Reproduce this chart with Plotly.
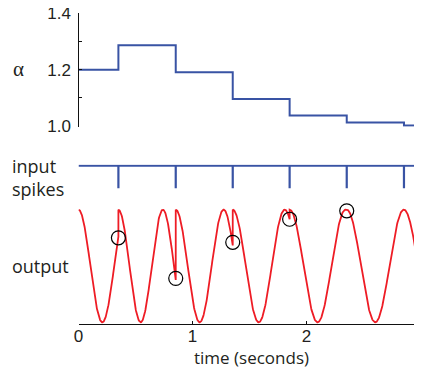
import numpy as np
import plotly.graph_objects as go

# ---- data ----
spike_times = [0.35, 0.853, 1.353, 1.852, 2.353, 2.855]
alpha_times = [0.0, 0.35, 0.853, 1.353, 1.852, 2.353, 2.855, 3.0]
alpha_values = [1.2, 1.287, 1.191, 1.096, 1.037, 1.012, 1.002, 1.002]
reset_times = [0.0, 0.35, 0.853, 1.353, 1.852, 2.353, 2.855]
periods = [0.418, 0.39, 0.42, 0.456, 0.49, 0.5, 0.5]
circle_times = [0.35, 0.853, 1.353, 1.852, 2.353]
circle_values = [0.75, 0.39, 0.71, 0.915, 0.99]
x_ticks = [0, 1, 2, 3]
alpha_ticks = [1.0, 1.1, 1.2, 1.3, 1.4]
alpha_ticktext = ["1.0", "", "1.2", "", "1.4"]

W, H = 422, 367
OFF = 8  # page body margin offset
BLUE = "#3953a4"
RED = "#ee1c25"


def px_x(p):
    return (p - OFF) / W


def px_y(p):
    return (H - (p - OFF)) / H


ends = reset_times[1:] + [3.0]
out_t, out_v = [], []
for r, e, P in zip(reset_times, ends, periods):
    t = np.linspace(r, e, 160)
    v = (1 + np.cos(2 * np.pi * (t - r) / P)) / 2
    out_t.extend(t.tolist())
    out_v.extend(v.tolist())

sx, sy = [0, 3, None], [1, 1, None]
for s in spike_times:
    sx += [s, s, None]
    sy += [1, 0, None]

fig = go.Figure()
fig.add_trace(go.Scatter(x=alpha_times, y=alpha_values, mode="lines",
                         line=dict(color=BLUE, width=2, shape="hv"),
                         xaxis="x", yaxis="y", hoverinfo="skip"))
fig.add_trace(go.Scatter(x=sx, y=sy, mode="lines",
                         line=dict(color=BLUE, width=2.2),
                         xaxis="x2", yaxis="y2", hoverinfo="skip"))
fig.add_trace(go.Scatter(x=out_t, y=out_v, mode="lines",
                         line=dict(color=RED, width=1.8),
                         xaxis="x3", yaxis="y3", hoverinfo="skip"))
fig.add_trace(go.Scatter(x=circle_times, y=circle_values, mode="markers",
                         marker=dict(symbol="circle-open", size=14,
                                     color="black", line=dict(width=1.2)),
                         cliponaxis=False,
                         xaxis="x3", yaxis="y3", hoverinfo="skip"))

xdom = [px_x(78.5), px_x(420.5)]
tickfont = dict(family="Liberation Sans, Arial", size=17, color="#231f20")

fig.update_layout(
    width=W, height=H,
    margin=dict(l=0, r=0, t=0, b=0, pad=0, autoexpand=False),
    paper_bgcolor="white", plot_bgcolor="white",
    showlegend=False,
    xaxis=dict(domain=xdom, range=[0, 3], visible=False, anchor="y"),
    yaxis=dict(domain=[px_y(126.85), px_y(13.3)], range=[0.997, 1.4],
               anchor="x", showline=True, linecolor="#111", linewidth=1.3,
               ticks="inside", ticklen=3, tickwidth=1.2, tickcolor="#111",
               tickvals=alpha_ticks, ticktext=alpha_ticktext,
               showgrid=False, zeroline=False, tickfont=tickfont,
               ticklabelstandoff=3, ticklabeloverflow="allow",
               automargin=False),
    xaxis2=dict(domain=xdom, range=[0, 3], visible=False, anchor="y2"),
    yaxis2=dict(domain=[px_y(189.4), px_y(164.6)], range=[-0.05, 1.05],
                visible=False, anchor="x2"),
    xaxis3=dict(domain=xdom, range=[0, 3], anchor="y3", showline=True,
                linecolor="#111", linewidth=1.3, ticks="inside", ticklen=3,
                tickwidth=1.2, tickcolor="#111", tickvals=x_ticks,
                showgrid=False, zeroline=False, tickfont=tickfont,
                ticklabelstandoff=-4, ticklabeloverflow="allow",
                automargin=False),
    yaxis3=dict(domain=[px_y(324), px_y(207.4)], range=[-0.015, 1.02],
                visible=False, anchor="x3"),
)

label_font = dict(family="Open Sans, Noto Sans", size=18, color="#231f20")
annots = [
    dict(text="α", x=px_x(11), y=px_y(69), xanchor="left", yanchor="middle",
         font=dict(family="Liberation Serif, DejaVu Serif", size=21, color="#231f20")),
    dict(text="input", x=px_x(10), y=px_y(166), xanchor="left", yanchor="middle",
         font=label_font),
    dict(text="spikes", x=px_x(10), y=px_y(189), xanchor="left", yanchor="middle",
         font=label_font),
    dict(text="output", x=px_x(10), y=px_y(266), xanchor="left", yanchor="middle",
         font=label_font),
    dict(text="time (seconds)", x=px_x(251), y=px_y(357), xanchor="center",
         yanchor="middle", font=dict(family="Open Sans, Noto Sans", size=17,
                                     color="#231f20")),
]
for a in annots:
    fig.add_annotation(xref="paper", yref="paper", showarrow=False, **a)

fig.write_html("out.html")
